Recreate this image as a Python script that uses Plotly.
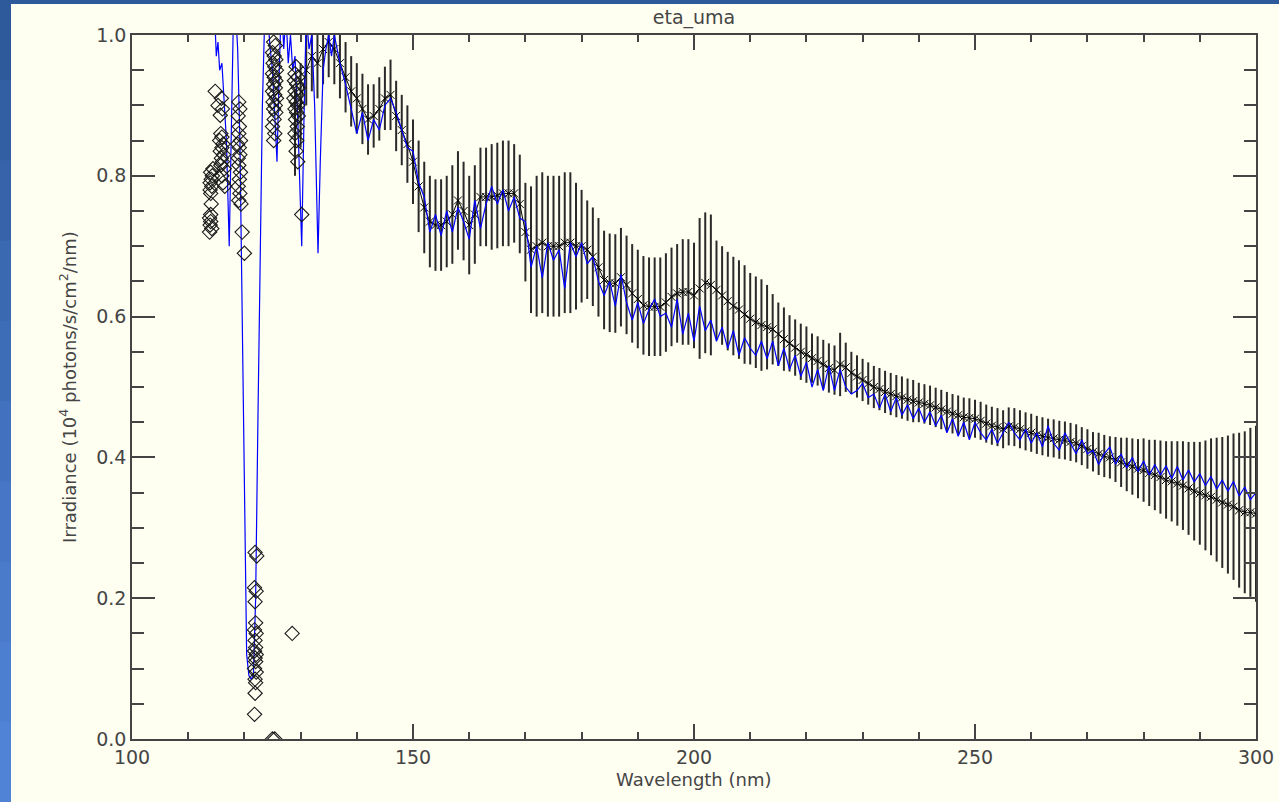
import plotly.graph_objects as go

# ---------------- data ----------------
# blue high-resolution spectrum, irregular short-wavelength part
blue_wl_a = [114.6, 115.0, 115.3, 115.6, 116.0, 116.4, 116.8, 117.3, 117.7, 118.1,
             118.4, 118.8, 119.2, 119.6, 120.0, 120.4, 120.8, 121.2, 121.6, 122.0,
             122.4, 122.8, 123.2, 123.7, 124.2, 124.6, 125.0, 125.5, 125.8, 126.2,
             126.6, 127.0, 127.4, 127.8, 128.2, 128.6, 129.0, 129.5, 129.9, 130.2,
             130.6, 131.0, 131.5, 132.0, 132.5, 133.1, 133.5, 134.0, 134.5, 135.0,
             135.5, 136.0, 136.5, 137.0]
blue_irr_a = [1.05, 0.97, 0.99, 0.95, 0.96, 0.90, 0.85, 0.70, 0.85, 1.05,
              1.04, 0.98, 0.85, 0.60, 0.35, 0.12, 0.09, 0.085, 0.09, 0.20,
              0.45, 0.72, 0.90, 1.05, 1.02, 0.98, 0.95, 0.87, 0.82, 0.95,
              1.05, 0.98, 1.03, 0.96, 1.00, 0.95, 0.97, 0.88, 0.78, 0.70,
              0.88, 1.03, 0.98, 1.00, 0.90, 0.69, 0.82, 0.95, 0.98, 1.00,
              0.97, 1.00, 0.98, 0.96]

# blue spectrum, 138-300 nm (1 nm steps)
blue_wl_b = list(range(138, 301))
blue_irr_b = [
    0.93, 0.895,
    0.86, 0.89, 0.85, 0.88, 0.865, 0.90, 0.91, 0.89, 0.865, 0.84,           # 140
    0.835, 0.79, 0.77, 0.72, 0.745, 0.715, 0.75, 0.72, 0.755, 0.735,        # 150
    0.71, 0.765, 0.725, 0.76, 0.785, 0.76, 0.78, 0.75, 0.77, 0.74,          # 160
    0.735, 0.67, 0.70, 0.655, 0.705, 0.68, 0.695, 0.64, 0.705, 0.685,       # 170
    0.705, 0.675, 0.685, 0.65, 0.63, 0.65, 0.615, 0.66, 0.62, 0.595,        # 180
    0.62, 0.59, 0.61, 0.625, 0.60, 0.605, 0.585, 0.625, 0.575, 0.605,       # 190
    0.565, 0.615, 0.58, 0.595, 0.565, 0.585, 0.555, 0.58, 0.545, 0.57,      # 200
    0.555, 0.545, 0.565, 0.54, 0.565, 0.53, 0.555, 0.525, 0.545, 0.515,     # 210
    0.535, 0.50, 0.525, 0.495, 0.53, 0.495, 0.525, 0.50, 0.49, 0.495,       # 220
    0.505, 0.485, 0.49, 0.47, 0.49, 0.465, 0.485, 0.46, 0.475, 0.455,       # 230
    0.47, 0.45, 0.465, 0.445, 0.46, 0.435, 0.455, 0.43, 0.45, 0.425,        # 240
    0.45, 0.435, 0.425, 0.44, 0.42, 0.435, 0.45, 0.435, 0.425, 0.44,        # 250
    0.42, 0.435, 0.415, 0.445, 0.42, 0.41, 0.435, 0.42, 0.405, 0.425,       # 260
    0.405, 0.41, 0.39, 0.405, 0.415, 0.39, 0.405, 0.385, 0.40, 0.38,        # 270
    0.395, 0.375, 0.39, 0.375, 0.388, 0.37, 0.387, 0.368, 0.382, 0.365,     # 280
    0.377, 0.36, 0.373, 0.355, 0.368, 0.352, 0.366, 0.345, 0.358, 0.34,     # 290
    0.35,                                                                    # 300
]

# black binned spectrum with error bars, 129-300 nm
bin_wl = list(range(129, 301))
bin_irr = [
    0.86,
    0.90, 0.95, 0.97, 0.96, 0.98, 0.99, 0.98, 0.96, 0.94, 0.92,             # 130
    0.91, 0.895, 0.88, 0.885, 0.895, 0.91, 0.915, 0.885, 0.865, 0.845,      # 140
    0.82, 0.785, 0.755, 0.735, 0.73, 0.73, 0.735, 0.745, 0.765, 0.75,       # 150
    0.73, 0.745, 0.77, 0.77, 0.77, 0.772, 0.775, 0.775, 0.775, 0.76,        # 160
    0.72, 0.695, 0.70, 0.705, 0.70, 0.70, 0.70, 0.705, 0.705, 0.70,         # 170
    0.70, 0.695, 0.685, 0.67, 0.652, 0.648, 0.647, 0.656, 0.645, 0.633,     # 180
    0.625, 0.616, 0.614, 0.614, 0.614, 0.62, 0.628, 0.633, 0.635, 0.635,    # 190
    0.63, 0.64, 0.648, 0.645, 0.638, 0.63, 0.622, 0.615, 0.61, 0.603,       # 200
    0.597, 0.592, 0.588, 0.585, 0.582, 0.575, 0.568, 0.562, 0.556, 0.55,    # 210
    0.546, 0.541, 0.537, 0.532, 0.527, 0.524, 0.532, 0.528, 0.52, 0.515,    # 220
    0.51, 0.505, 0.50, 0.497, 0.493, 0.49, 0.487, 0.485, 0.482, 0.48,       # 230
    0.478, 0.476, 0.474, 0.471, 0.468, 0.465, 0.462, 0.46, 0.457, 0.456,    # 240
    0.455, 0.452, 0.448, 0.445, 0.443, 0.44, 0.444, 0.443, 0.44, 0.437,     # 250
    0.435, 0.432, 0.43, 0.428, 0.427, 0.425, 0.424, 0.422, 0.42, 0.416,     # 260
    0.412, 0.408, 0.405, 0.402, 0.40, 0.397, 0.393, 0.39, 0.387, 0.384,     # 270
    0.382, 0.378, 0.375, 0.372, 0.368, 0.366, 0.363, 0.36, 0.356, 0.352,    # 280
    0.349, 0.346, 0.344, 0.34, 0.336, 0.333, 0.33, 0.325, 0.322, 0.322,     # 290
    0.32,                                                                    # 300
]
bin_err = [
    0.06,
    0.06, 0.05, 0.05, 0.05, 0.05, 0.05, 0.05, 0.05, 0.05, 0.05,             # 130
    0.05, 0.05, 0.05, 0.045, 0.045, 0.045, 0.05, 0.05, 0.05, 0.055,         # 140
    0.06, 0.065, 0.065, 0.065, 0.065, 0.065, 0.065, 0.07, 0.07, 0.07,       # 150
    0.07, 0.07, 0.07, 0.07, 0.075, 0.075, 0.075, 0.075, 0.07, 0.07,         # 160
    0.07, 0.09, 0.10, 0.10, 0.10, 0.10, 0.10, 0.10, 0.10, 0.09,             # 170
    0.08, 0.07, 0.07, 0.07, 0.07, 0.07, 0.07, 0.07, 0.07, 0.07,             # 180
    0.07, 0.07, 0.07, 0.07, 0.07, 0.07, 0.07, 0.07, 0.075, 0.075,           # 190
    0.075, 0.10, 0.10, 0.10, 0.07, 0.07, 0.07, 0.07, 0.07, 0.07,            # 200
    0.065, 0.065, 0.065, 0.06, 0.05, 0.045, 0.045, 0.04, 0.04, 0.04,        # 210
    0.04, 0.035, 0.035, 0.035, 0.035, 0.035, 0.045, 0.035, 0.03, 0.03,      # 220
    0.03, 0.03, 0.03, 0.03, 0.03, 0.03, 0.03, 0.03, 0.03, 0.03,             # 230
    0.028, 0.028, 0.028, 0.028, 0.028, 0.028, 0.028, 0.028, 0.028, 0.028,   # 240
    0.027, 0.027, 0.027, 0.027, 0.027, 0.027, 0.027, 0.027, 0.027, 0.027,   # 250
    0.027, 0.027, 0.027, 0.027, 0.027, 0.027, 0.027, 0.027, 0.027, 0.027,   # 260
    0.028, 0.028, 0.03, 0.03, 0.03, 0.032, 0.035, 0.038, 0.04, 0.042,       # 270
    0.045, 0.047, 0.05, 0.052, 0.055, 0.057, 0.06, 0.063, 0.066, 0.07,      # 280
    0.073, 0.078, 0.083, 0.088, 0.093, 0.098, 0.104, 0.11, 0.115, 0.12,     # 290
    0.125,                                                                   # 300
]

# diamonds (short-wavelength measurements)
dia_wl = [113.8, 113.9, 113.8, 114.0, 114.1, 113.9, 114.0, 114.2, 113.9, 114.1,
          114.3, 114.0, 114.4, 114.2, 114.0,
          114.8, 115.3, 115.7, 115.9, 116.1, 115.8, 116.0, 115.6, 116.2, 116.0,
          115.7, 116.3, 115.9, 116.1, 115.8, 116.4, 116.0, 116.2, 116.5,
          119.0, 119.2, 118.9, 119.1, 119.0, 119.3, 118.8, 119.1, 119.2, 118.9,
          119.0, 119.3, 119.1, 118.9, 119.2, 119.0, 119.4, 119.6, 120.0,
          121.9, 122.2, 121.8, 122.1, 121.9, 122.0, 121.8, 122.1, 121.9, 122.0,
          121.8, 122.1, 121.9, 122.0, 121.8, 122.1, 121.9, 122.0, 121.9, 121.8,
          125.0, 125.4, 128.5,
          125.2, 125.5, 125.0, 125.3, 125.6, 125.1, 125.4, 125.7, 125.0, 125.3,
          125.6, 125.2, 125.5, 125.0, 125.4, 125.7, 125.1, 125.5, 125.2, 125.6,
          125.3, 125.0, 125.4, 125.2,
          129.2, 129.0, 129.5, 128.9, 129.3, 129.6, 129.0, 129.4, 128.8, 129.2,
          129.5, 129.0, 129.3, 129.6, 129.1, 129.4, 129.0, 129.3, 129.2, 129.5,
          130.2]
dia_irr = [0.72, 0.73, 0.74, 0.745, 0.76, 0.78, 0.775, 0.785, 0.79, 0.795,
           0.80, 0.805, 0.81, 0.725, 0.735,
           0.92, 0.90, 0.886, 0.91, 0.895, 0.86, 0.855, 0.85, 0.845, 0.84,
           0.835, 0.83, 0.825, 0.82, 0.815, 0.81, 0.80, 0.79, 0.785,
           0.905, 0.895, 0.885, 0.87, 0.86, 0.85, 0.845, 0.84, 0.83, 0.825,
           0.815, 0.805, 0.795, 0.785, 0.775, 0.765, 0.76, 0.72, 0.69,
           0.265, 0.26, 0.215, 0.21, 0.195, 0.165, 0.155, 0.15, 0.14, 0.13,
           0.125, 0.12, 0.115, 0.11, 0.10, 0.095, 0.085, 0.08, 0.065, 0.035,
           0.0, 0.0, 0.15,
           0.99, 0.985, 0.975, 0.97, 0.965, 0.96, 0.955, 0.95, 0.945, 0.94,
           0.935, 0.93, 0.925, 0.92, 0.915, 0.91, 0.905, 0.90, 0.895, 0.89,
           0.88, 0.87, 0.86, 0.85,
           0.955, 0.945, 0.94, 0.935, 0.93, 0.925, 0.92, 0.915, 0.91, 0.905,
           0.90, 0.895, 0.89, 0.885, 0.88, 0.87, 0.86, 0.85, 0.835, 0.82,
           0.745]

title_text = "eta_uma"
x_title = "Wavelength (nm)"
y_title = "Irradiance (10<sup>4</sup> photons/s/cm<sup>2</sup>/nm)"

# ---------------- figure ----------------
W, H = 1279, 802
L, R, T, B = 132, 1256, 35, 739   # plot area in pixels
pw, ph = R - L, B - T


def px(xp):
    return (xp - L) / pw


def py(yp):
    return (B - yp) / ph


TXT = "#454545"
FONT = "DejaVu Sans"
CREAM = "#FEFEF1"

fig = go.Figure()

fig.add_trace(go.Scatter(
    x=bin_wl, y=bin_irr, mode="lines+markers",
    line=dict(color="black", width=1),
    marker=dict(symbol="x-thin", size=8, line=dict(color="black", width=1)),
    error_y=dict(type="data", array=bin_err, visible=True,
                 color="#2a2a2a", thickness=2, width=0),
    showlegend=False, hoverinfo="skip"))

fig.add_trace(go.Scatter(
    x=blue_wl_a + blue_wl_b, y=blue_irr_a + blue_irr_b, mode="lines",
    line=dict(color="#0000FF", width=1.2),
    showlegend=False, hoverinfo="skip"))

fig.add_trace(go.Scatter(
    x=dia_wl, y=dia_irr, mode="markers",
    marker=dict(symbol="diamond-open", size=11, color="#1a1a1a",
                line=dict(color="#1a1a1a", width=1.1)),
    showlegend=False, hoverinfo="skip"))

# slide background strips (blue border on left and top)
shapes = []
left_cols = ["#2E5A9C", "#325FA3", "#3663AA", "#3A68B1", "#3E6DB8",
             "#4272BF", "#4676C5", "#4A7BCB", "#4D7FD1", "#5083D6"]
nb = len(left_cols)
for i, c in enumerate(left_cols):
    y_top = i * H / nb
    y_bot = (i + 1) * H / nb
    shapes.append(dict(type="rect", xref="paper", yref="paper",
                       x0=px(0), x1=px(11), y0=py(y_bot + 1), y1=py(y_top),
                       fillcolor=c, line=dict(width=0), layer="below"))
shapes.append(dict(type="rect", xref="paper", yref="paper",
                   x0=px(0), x1=px(W), y0=py(4), y1=py(0),
                   fillcolor="#2E5A9C", line=dict(width=0), layer="below"))

axis_common = dict(
    showgrid=False, zeroline=False, showline=True, linecolor="#444444",
    linewidth=1.5, mirror="ticks", ticks="inside", tickcolor="#444444",
    tickwidth=1.5, tickfont=dict(family=FONT, size=19, color=TXT),
    automargin=False,
)

fig.update_layout(
    width=W, height=H, autosize=False,
    margin=dict(l=L, r=W - R, t=T, b=H - B, pad=0, autoexpand=False),
    paper_bgcolor=CREAM, plot_bgcolor=CREAM,
    shapes=shapes,
    title=dict(text=title_text, x=0.5, xref="paper", xanchor="center",
               y=1 - 17 / H, yref="container", yanchor="middle",
               font=dict(family=FONT, size=19, color=TXT)),
    xaxis=dict(range=[100, 300], tick0=100, dtick=50, ticklen=15,
               minor=dict(dtick=10, ticklen=7, ticks="inside",
                          tickcolor="#444444", tickwidth=1.5),
               **axis_common),
    yaxis=dict(range=[0, 1.0], tick0=0, dtick=0.2, tickformat=".1f",
               ticklen=23,
               minor=dict(dtick=0.05, ticklen=12, ticks="inside",
                          tickcolor="#444444", tickwidth=1.5),
               **axis_common),
    annotations=[
        dict(text=x_title, xref="paper", yref="paper", x=px(694), y=py(779),
             xanchor="center", yanchor="middle", showarrow=False,
             font=dict(family=FONT, size=18, color=TXT)),
        dict(text=y_title, xref="paper", yref="paper", x=px(68), y=py(387),
             xanchor="center", yanchor="middle", showarrow=False,
             textangle=-90, font=dict(family=FONT, size=18, color=TXT)),
    ],
)

fig.write_html(
    "out.html",
    config=dict(displayModeBar=False),
    post_script="document.body.style.margin='0';document.body.style.padding='0';"
                "document.body.style.overflow='hidden';",
)
